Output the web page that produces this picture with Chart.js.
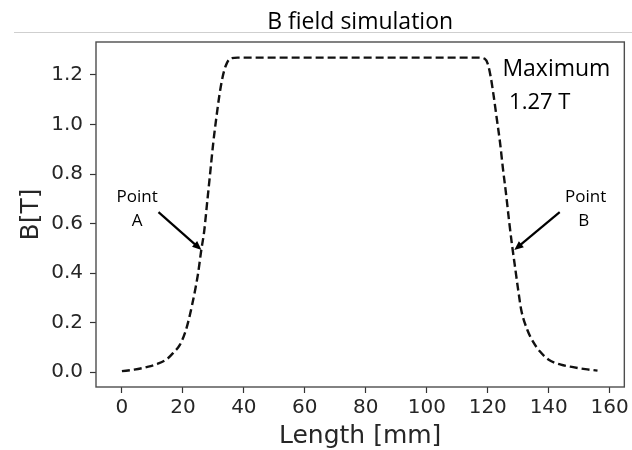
<!DOCTYPE html>
<html>
<head>
<meta charset="utf-8">
<script src="https://cdn.jsdelivr.net/npm/chart.js@4.4.0/dist/chart.umd.min.js"></script>
<style>
  html, body { margin: 0; padding: 0; background: #fff; }
  #wrap { width: 632px; height: 450px; position: relative; }
</style>
</head>
<body>
<div id="wrap"><canvas id="grafico"></canvas></div>
<script>
// Dados (comprimento em mm, campo em T)
var comprimento = [0, 4, 8, 12, 15, 17, 19, 21, 23, 25, 26, 27, 28, 29, 30, 31, 32, 33, 34, 35, 36, 38,
                   50, 70, 90, 110, 117, 119, 120, 121, 122, 123, 124, 125, 126, 127, 128, 129, 130, 131,
                   133, 135, 137, 140, 144, 148, 152, 156];
var campoB = [0.004, 0.010, 0.020, 0.035, 0.055, 0.080, 0.11, 0.17, 0.27, 0.40, 0.49, 0.57, 0.69, 0.81, 0.93, 1.03, 1.12, 1.19, 1.235, 1.26, 1.268, 1.27,
              1.27, 1.27, 1.27, 1.27, 1.27, 1.265, 1.245, 1.19, 1.11, 1.02, 0.93, 0.82, 0.72, 0.61, 0.51, 0.42, 0.33, 0.25,
              0.17, 0.12, 0.085, 0.05, 0.03, 0.02, 0.012, 0.006];

var ticksX = [0, 20, 40, 60, 80, 100, 120, 140, 160];
var ticksY = [0.0, 0.2, 0.4, 0.6, 0.8, 1.0, 1.2];

// Anotações (posições em unidades dos eixos)
var notas = [
    { texto: 'Maximum', x: 124.8, y: 1.224, alinhar: 'left', tamanho: 23 },
    { texto: '1.27 T', x: 127.0, y: 1.089, alinhar: 'left', tamanho: 22 },
    { texto: 'Point', x: 5.0, y: 0.707, alinhar: 'center', tamanho: 17 },
    { texto: 'A', x: 5.0, y: 0.61, alinhar: 'center', tamanho: 17 },
    { texto: 'Point', x: 152.1, y: 0.707, alinhar: 'center', tamanho: 17 },
    { texto: 'B', x: 151.5, y: 0.61, alinhar: 'center', tamanho: 17 }
];
var setas = [
    { de: [12.0, 0.646], para: [26.1, 0.493] },
    { de: [143.6, 0.646], para: [128.7, 0.493] }
];

var corTexto = '#262626';

var pontos = comprimento.map(function(x, i) { return { x: x, y: campoB[i] }; });

var extras = {
    id: 'extras',
    beforeDraw: function(chart) {
        var c = chart.ctx;
        c.save();
        c.fillStyle = '#fff';
        c.fillRect(0, 0, chart.width, chart.height);
        // linha cinzenta debaixo do título
        c.strokeStyle = '#cfcfcf';
        c.lineWidth = 1.2;
        c.beginPath();
        c.moveTo(14, 32.5);
        c.lineTo(chart.width, 32.5);
        c.stroke();
        c.restore();
    },
    afterDraw: function(chart) {
        var c = chart.ctx;
        var a = chart.chartArea;
        var sx = chart.scales.x, sy = chart.scales.y;
        c.save();
        // moldura
        c.strokeStyle = '#4d4d4d';
        c.lineWidth = 1.4;
        c.strokeRect(a.left, a.top, a.right - a.left, a.bottom - a.top);
        // textos
        c.fillStyle = '#000';
        c.textBaseline = 'middle';
        notas.forEach(function(n) {
            c.font = n.tamanho + 'px "Open Sans"';
            c.textAlign = n.alinhar;
            c.fillText(n.texto, sx.getPixelForValue(n.x), sy.getPixelForValue(n.y));
        });
        // setas
        c.strokeStyle = '#000';
        c.lineWidth = 2.2;
        setas.forEach(function(s) {
            var x0 = sx.getPixelForValue(s.de[0]), y0 = sy.getPixelForValue(s.de[1]);
            var x1 = sx.getPixelForValue(s.para[0]), y1 = sy.getPixelForValue(s.para[1]);
            var ang = Math.atan2(y1 - y0, x1 - x0);
            var L = 10;
            c.beginPath();
            c.moveTo(x0, y0);
            c.lineTo(x1 - 6 * Math.cos(ang), y1 - 6 * Math.sin(ang));
            c.stroke();
            c.beginPath();
            c.moveTo(x1, y1);
            c.lineTo(x1 - L * Math.cos(ang - 0.4), y1 - L * Math.sin(ang - 0.4));
            c.lineTo(x1 - L * Math.cos(ang + 0.4), y1 - L * Math.sin(ang + 0.4));
            c.closePath();
            c.fill();
        });
        c.restore();
    }
};

var ctx = document.getElementById('grafico').getContext('2d');
var grafico = new Chart(ctx, {
    type: 'scatter',
    data: {
        datasets: [{
            data: pontos,
            showLine: true,
            borderColor: '#111',
            borderWidth: 2.4,
            borderDash: [8, 4],
            pointRadius: 0,
            cubicInterpolationMode: 'monotone',
            fill: false
        }]
    },
    options: {
        responsive: true,
        maintainAspectRatio: false,
        animation: false,
        layout: { padding: { left: 0, right: 5, top: 0, bottom: 0 } },
        plugins: {
            legend: { display: false },
            tooltip: { enabled: false },
            title: {
                display: true,
                text: 'B field simulation',
                fullSize: false,
                color: '#000',
                font: { family: 'Open Sans', size: 23, weight: 'normal', lineHeight: 1.2 },
                padding: { top: 8.5, bottom: 5.9 }
            }
        },
        scales: {
            x: {
                type: 'linear',
                min: -8.5,
                max: 164.8,
                afterBuildTicks: function(axis) {
                    axis.ticks = ticksX.map(function(v) { return { value: v }; });
                },
                afterFit: function(axis) { axis.height = 63; },
                grid: { display: true, drawOnChartArea: false, drawTicks: true, tickLength: 6, color: '#333', tickWidth: 1.2 },
                border: { display: false },
                ticks: {
                    color: corTexto,
                    padding: 3,
                    maxRotation: 0,
                    font: { family: 'DejaVu Sans', size: 20 },
                    callback: function(v) { return String(v); }
                },
                title: {
                    display: true,
                    text: 'Length [mm]',
                    color: corTexto,
                    font: { family: 'DejaVu Sans', size: 25 },
                    padding: { top: 0, bottom: -1 }
                }
            },
            y: {
                type: 'linear',
                min: -0.06,
                max: 1.333,
                afterBuildTicks: function(axis) {
                    axis.ticks = ticksY.map(function(v) { return { value: v }; });
                },
                afterFit: function(axis) { axis.width = 96; },
                grid: { display: true, drawOnChartArea: false, drawTicks: true, tickLength: 6, color: '#333', tickWidth: 1.2 },
                border: { display: false },
                ticks: {
                    color: corTexto,
                    padding: 7,
                    font: { family: 'DejaVu Sans', size: 20 },
                    callback: function(v) { return v.toFixed(1); }
                },
                title: {
                    display: true,
                    text: 'B[T]',
                    color: corTexto,
                    font: { family: 'DejaVu Sans', size: 25 },
                    padding: { top: 16, bottom: 0 }
                }
            }
        }
    },
    plugins: [extras]
});
</script>
</body>
</html>
